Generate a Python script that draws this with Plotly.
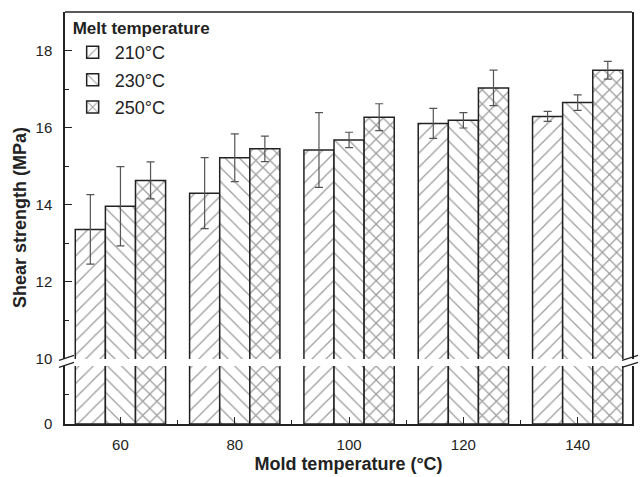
import plotly.graph_objects as go

mold_temp = [60, 80, 100, 120, 140]
series_names = ["210°C", "230°C", "250°C"]
shear_210 = [13.36, 14.30, 15.42, 16.11, 16.29]
shear_230 = [13.96, 15.22, 15.68, 16.19, 16.65]
shear_250 = [14.63, 15.45, 16.27, 17.03, 17.49]
err_210 = [0.90, 0.92, 0.97, 0.39, 0.13]
err_230 = [1.03, 0.62, 0.20, 0.20, 0.20]
err_250 = [0.48, 0.33, 0.35, 0.46, 0.23]
patterns = ["/", "\\", "x"]
pattern_solidity = [0.13, 0.13, 0.24]

values = [shear_210, shear_230, shear_250]
errors = [err_210, err_230, err_250]

FONT = "Arial, Liberation Sans, sans-serif"
INK = "#222222"
HATCH = "#3a3a3a"

fig = go.Figure()
for name, vals, errs, pat, sol in zip(series_names, values, errors, patterns, pattern_solidity):
    marker = dict(color="white",
                  line=dict(color=INK, width=1.5),
                  pattern=dict(shape=pat, fgcolor=HATCH, bgcolor="white",
                               size=10, solidity=sol, fillmode="overlay"))
    # lower segment of the broken axis
    fig.add_trace(go.Bar(x=mold_temp, y=vals, yaxis="y", xaxis="x",
                         marker=marker, showlegend=False, legendgroup=name,
                         hoverinfo="skip"))
    # upper segment with error bars
    fig.add_trace(go.Bar(x=mold_temp, y=vals, yaxis="y2", xaxis="x",
                         name=name, legendgroup=name, marker=marker,
                         error_y=dict(type="data", array=errs, visible=True,
                                      color="#555555", thickness=1.2, width=4)))

lower_dom = [0, 0.141]
upper_dom = [0.158, 1]
gap_mid = (lower_dom[1] + upper_dom[0]) / 2

axis_common = dict(showline=True, linecolor=INK, linewidth=1.5, ticks="inside",
                   tickcolor=INK, showgrid=False, zeroline=False,
                   tickfont=dict(family=FONT, size=15, color=INK))

fig.update_layout(
    width=640, height=477,
    margin=dict(l=65, r=6, t=12, b=47),
    paper_bgcolor="white", plot_bgcolor="white",
    barmode="group", bargap=0.21, bargroupgap=0,
    font=dict(family=FONT, color=INK),
    xaxis=dict(range=[50.3, 149.5], tickvals=mold_temp, ticklen=7,
               minor=dict(dtick=10, tick0=0, ticks="inside", ticklen=4, tickcolor=INK),
               anchor="y", ticklabelstandoff=6,
               title=dict(text="<b>Mold temperature (°C)</b>",
                          font=dict(family=FONT, size=18, color=INK), standoff=6),
               **axis_common),
    yaxis=dict(domain=lower_dom, range=[0, 9.83], tickvals=[0], ticklen=7,
               minor=dict(tickvals=[5], ticks="inside", ticklen=4, tickcolor=INK),
               mirror=True, anchor="x", ticklabelstandoff=8, **axis_common),
    yaxis2=dict(domain=upper_dom, range=[10, 19], tickvals=[10, 12, 14, 16, 18],
                ticklen=7,
                minor=dict(dtick=1, tick0=0, ticks="inside", ticklen=4, tickcolor=INK),
                mirror=True, anchor="x", ticklabelstandoff=8, **axis_common),
    legend=dict(x=0.01, y=1.0, xanchor="left", yanchor="top",
                bgcolor="rgba(0,0,0,0)",
                title=dict(text="<b>Melt temperature</b>",
                           font=dict(family=FONT, size=17, color=INK)),
                font=dict(family=FONT, size=18, color=INK),
                itemwidth=34, tracegroupgap=1),
    annotations=[dict(text="<b>Shear strength (MPa)</b>", xref="paper", yref="paper",
                      x=0, y=0.5, xanchor="center", yanchor="middle", textangle=-90,
                      xshift=-45, showarrow=False,
                      font=dict(family=FONT, size=18, color=INK))],
)

# top frame line and axis-break marks
shapes = [dict(type="line", xref="paper", yref="paper", x0=0, x1=1, y0=1, y1=1,
               line=dict(color=INK, width=1.5))]
for xa, dx0, dx1 in [(0, -6, 9), (1, -10, 6)]:
    for dy in (4.5, -2.5):
        shapes.append(dict(type="line", xref="paper", yref="paper",
                           xsizemode="pixel", ysizemode="pixel",
                           xanchor=xa, yanchor=gap_mid,
                           x0=dx0, x1=dx1, y0=dy - 2.5, y1=dy + 2.5,
                           line=dict(color=INK, width=1.3)))
fig.update_layout(shapes=shapes)

fig.write_html("out.html")
